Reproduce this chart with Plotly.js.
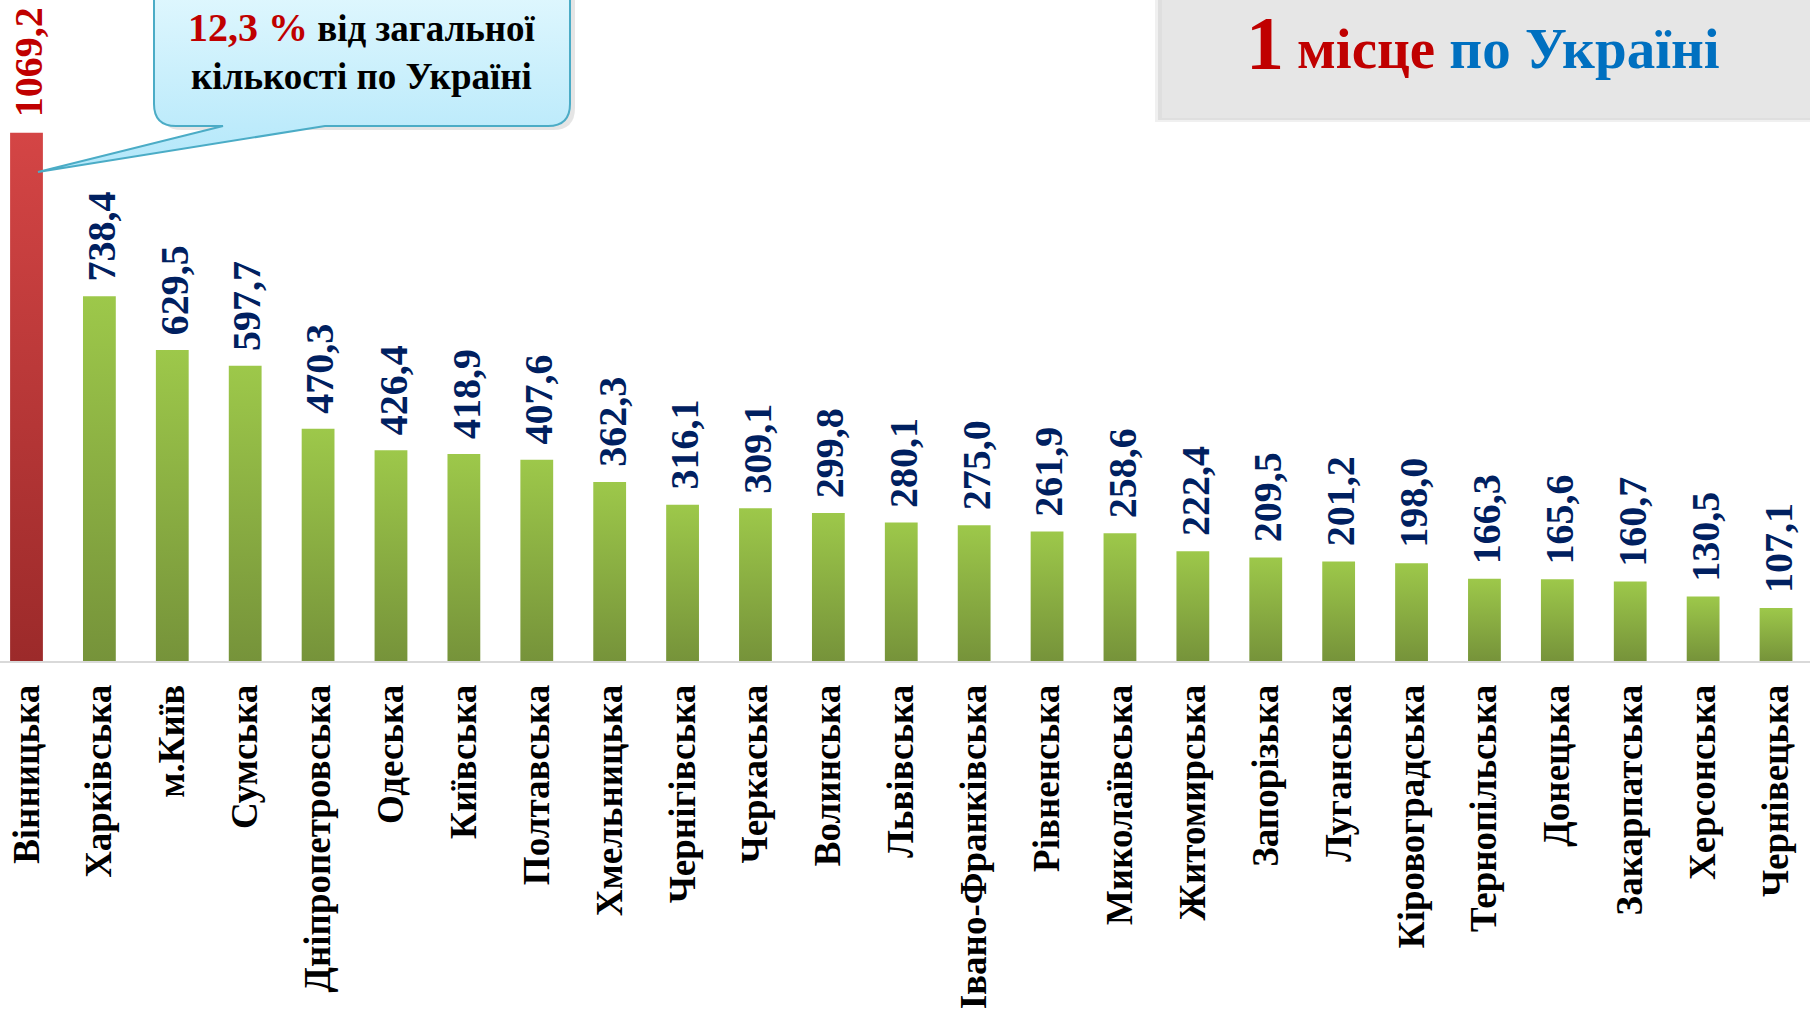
<!DOCTYPE html>
<html>
<head>
<meta charset="utf-8">
<script src="https://cdn.plot.ly/plotly-3.0.1.min.js"></script>
<style>
html,body{margin:0;padding:0;background:#fff;}
#chart{width:1810px;height:1016px;}
</style>
</head>
<body>
<div id="chart"></div>
<script>
// ---- data ----
const regions = ["Вінницька","Харківська","м.Київ","Сумська","Дніпропетровська","Одеська","Київська","Полтавська","Хмельницька","Чернігівська","Черкаська","Волинська","Львівська","Івано-Франківська","Рівненська","Миколаївська","Житомирська","Запорізька","Луганська","Кіровоградська","Тернопільська","Донецька","Закарпатська","Херсонська","Чернівецька"];
const values = [1069.2,738.4,629.5,597.7,470.3,426.4,418.9,407.6,362.3,316.1,309.1,299.8,280.1,275.0,261.9,258.6,222.4,209.5,201.2,198.0,166.3,165.6,160.7,130.5,107.1];
const shareText = "12,3 %";
const shareRest = "від загальної";
const shareLine2 = "кількості по Україні";
const rankNum = "1";
const rankWord = "місце";
const rankRest = "по Україні";

// ---- styling ----
const W = 1810, H = 1016, PLOT_H = 661;
const FONT = '"Liberation Serif", "Times New Roman", serif';
const RED = '#C00000', NAVY = '#002060', BLUE = '#0070C0';
const fmt = v => v.toFixed(1).replace('.', ',');
const px = x => x / W;
const py = y => 1 - y / PLOT_H;

const barColors = values.map((v, i) => i === 0 ? '#BE3939' : '#8BB042');

const trace = {
  type: 'bar',
  x: regions,
  y: values,
  marker: {color: barColors, line: {width: 0}},
  hoverinfo: 'skip'
};

const annotations = values.map((v, i) => ({
  x: regions[i], y: v, xref: 'x', yref: 'y',
  text: fmt(v), textangle: -90, showarrow: false,
  xanchor: 'center', yanchor: 'bottom', yshift: 13, xshift: 2,
  font: {family: FONT, size: 40, weight: 'bold', color: i === 0 ? RED : NAVY}
}));

annotations.push({
  xref: 'paper', yref: 'paper', x: px(362), y: py(51),
  xanchor: 'center', yanchor: 'middle', showarrow: false, align: 'center',
  text: '<span style="color:' + RED + ';font-size:40px">' + shareText + '</span> ' + shareRest + '<br>' + shareLine2,
  font: {family: FONT, size: 37, weight: 'bold', color: '#000'}
});

// "1" (large) and "місце по Україні", aligned on a common baseline
annotations.push({
  xref: 'paper', yref: 'paper', x: px(1285), y: py(43),
  xanchor: 'right', yanchor: 'middle', showarrow: false, borderpad: 0,
  text: rankNum,
  font: {family: FONT, size: 76, weight: 'bold', color: RED}
});
annotations.push({
  xref: 'paper', yref: 'paper', x: px(1296), y: py(48),
  xanchor: 'left', yanchor: 'middle', showarrow: false, borderpad: 0,
  text: rankWord + ' <span style="color:' + BLUE + '">' + rankRest + '</span>',
  font: {family: FONT, size: 57, weight: 'bold', color: RED}
});

const r = 22;
const shapes = [
  // soft shadow of grey box
  {type: 'rect', xref: 'paper', yref: 'paper', x0: px(1155), x1: px(1830), y0: py(-10), y1: py(122),
   fillcolor: 'rgba(0,0,0,0.06)', line: {width: 0}},
  {type: 'rect', xref: 'paper', yref: 'paper', x0: px(1158), x1: px(1830), y0: py(-10), y1: py(120),
   fillcolor: 'rgba(0,0,0,0.07)', line: {width: 0}},
  // grey box
  {type: 'rect', xref: 'paper', yref: 'paper', x0: px(1162), x1: px(1830), y0: py(-10), y1: py(118),
   fillcolor: '#E6E6E6', line: {width: 0}},
  // callout shadow
  {type: 'path', xref: 'paper', yref: 'paper', fillcolor: 'rgba(0,0,0,0.10)', line: {width: 0},
   path: 'M ' + px(160) + ',' + py(-20) + ' L ' + px(575) + ',' + py(-20) + ' L ' + px(575) + ',' + py(130 - r) +
         ' Q ' + px(575) + ',' + py(130) + ' ' + px(575 - r) + ',' + py(130) +
         ' L ' + px(160 + r) + ',' + py(130) + ' Q ' + px(160) + ',' + py(130) + ' ' + px(160) + ',' + py(130 - r) + ' Z'},
  // callout
  {type: 'path', xref: 'paper', yref: 'paper', fillcolor: '#C8EFFB', line: {color: '#4BACC6', width: 2},
   path: 'M ' + px(154) + ',' + py(-20) + ' L ' + px(570) + ',' + py(-20) + ' L ' + px(570) + ',' + py(126 - r) +
         ' Q ' + px(570) + ',' + py(126) + ' ' + px(570 - r) + ',' + py(126) +
         ' L ' + px(325) + ',' + py(126) + ' L ' + px(38) + ',' + py(172) + ' L ' + px(223) + ',' + py(126) +
         ' L ' + px(154 + r) + ',' + py(126) + ' Q ' + px(154) + ',' + py(126) + ' ' + px(154) + ',' + py(126 - r) + ' Z'}
];

const layout = {
  width: W, height: H,
  margin: {l: 0, r: 0, t: 0, b: H - PLOT_H, pad: 0},
  paper_bgcolor: '#fff', plot_bgcolor: 'rgba(0,0,0,0)',
  showlegend: false,
  bargap: 0.55,
  xaxis: {
    type: 'category', range: [-0.3635, 24.466], fixedrange: true,
    tickangle: -90, ticks: '', ticklabelstandoff: 7,
    tickfont: {family: FONT, size: 37, weight: 'bold', color: '#000'},
    showgrid: false, zeroline: false, showline: true, linecolor: '#D9D9D9', linewidth: 2,
    automargin: false
  },
  yaxis: {range: [0, 1338], visible: false, fixedrange: true, automargin: false},
  annotations: annotations,
  shapes: shapes
};

Plotly.newPlot('chart', [trace], layout, {staticPlot: true, displayModeBar: false}).then(gd => {
  const NS = 'http://www.w3.org/2000/svg';
  const defs = gd.querySelector('.main-svg defs');
  function grad(id, stops) {
    const g = document.createElementNS(NS, 'linearGradient');
    g.setAttribute('id', id);
    g.setAttribute('x1', '0'); g.setAttribute('y1', '0');
    g.setAttribute('x2', '0'); g.setAttribute('y2', '1');
    stops.forEach(s => {
      const st = document.createElementNS(NS, 'stop');
      st.setAttribute('offset', s[0]);
      st.setAttribute('stop-color', s[1]);
      g.appendChild(st);
    });
    defs.appendChild(g);
  }
  grad('gGreen', [['0', '#9DC84A'], ['1', '#76933A']]);
  grad('gRed', [['0', '#D44545'], ['1', '#9C2A2A']]);
  grad('gCallout', [['0', '#E2F8FE'], ['1', '#B2E7FA']]);
  gd.querySelectorAll('.trace.bars .point path').forEach((p, i) => {
    p.style.fill = i === 0 ? 'url(#gRed)' : 'url(#gGreen)';
  });
  const callout = gd.querySelector('.shapelayer path[data-index="4"]');
  if (callout) callout.style.fill = 'url(#gCallout)';
});
</script>
</body>
</html>
